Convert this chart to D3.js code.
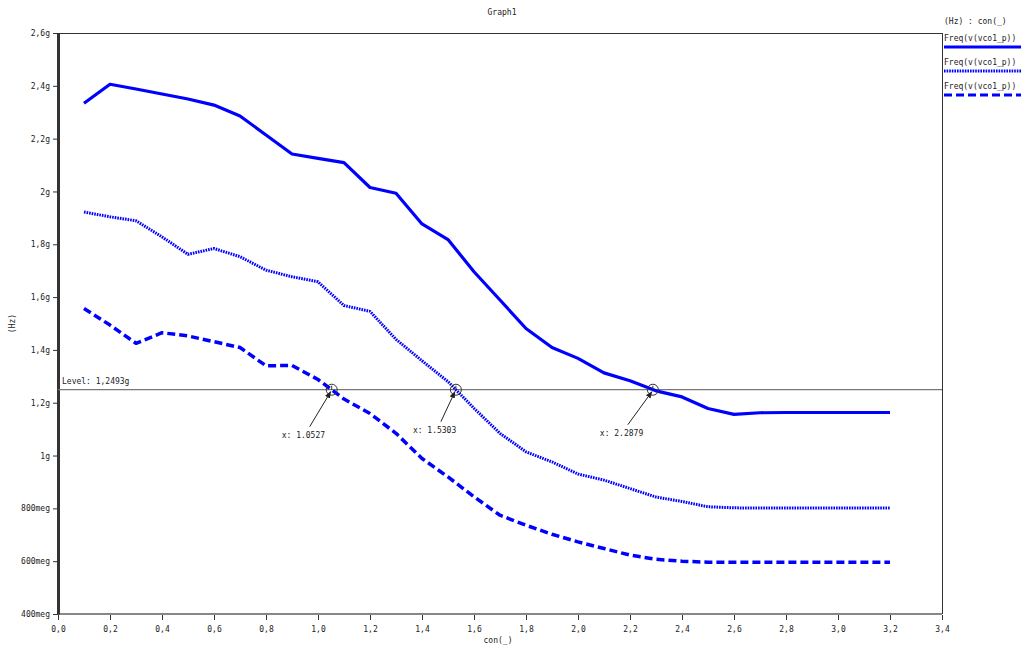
<!DOCTYPE html>
<html>
<head>
<meta charset="utf-8">
<script src="https://cdn.jsdelivr.net/npm/d3@7"></script>
<style>
  body { margin: 0; background: #fff; }
  svg { display: block; }
  text { font-family: "DejaVu Sans Mono", "Liberation Mono", monospace; font-size: 8px; fill: #222; }
</style>
</head>
<body>
<svg id="chart" width="1021" height="648"></svg>
<script>
// sweep values of con(_)
const conValues = [0.1, 0.2, 0.3, 0.4, 0.5, 0.6, 0.7, 0.8, 0.9, 1.0, 1.1, 1.2, 1.3, 1.4, 1.5, 1.6,
                   1.7, 1.8, 1.9, 2.0, 2.1, 2.2, 2.3, 2.4, 2.5, 2.6, 2.7, 2.8, 2.9, 3.0, 3.1, 3.2];

// Freq(v(vco1_p)) in GHz, three runs
const freqSolid = [2.334, 2.406, 2.388, 2.369, 2.350, 2.327, 2.286, 2.214, 2.142, 2.125, 2.109, 2.015,
                   1.993, 1.877, 1.818, 1.696, 1.589, 1.481, 1.409, 1.368, 1.313, 1.283, 1.245, 1.222,
                   1.178, 1.156, 1.162, 1.163, 1.163, 1.163, 1.163, 1.163];
const freqDotted = [1.922, 1.904, 1.889, 1.828, 1.762, 1.784, 1.753, 1.702, 1.677, 1.658, 1.568, 1.546,
                    1.440, 1.359, 1.280, 1.179, 1.084, 1.014, 0.976, 0.930, 0.907, 0.875, 0.843, 0.826,
                    0.806, 0.802, 0.801, 0.801, 0.801, 0.801, 0.801, 0.801];
const freqDashed = [1.557, 1.494, 1.425, 1.465, 1.453, 1.431, 1.409, 1.340, 1.341, 1.288, 1.214, 1.159,
                    1.084, 0.989, 0.919, 0.844, 0.774, 0.736, 0.702, 0.673, 0.648, 0.623, 0.607, 0.600,
                    0.596, 0.596, 0.596, 0.596, 0.596, 0.596, 0.596, 0.596];

const seriesNames = ["Freq(v(vco1_p))", "Freq(v(vco1_p))", "Freq(v(vco1_p))"];

// level cursor and crossings
const levelValue = 1.2493;
const levelLabel = "Level: 1,2493g";
const crossX = [1.0527, 1.5303, 2.2879];
const crossLabels = ["x: 1.0527", "x: 1.5303", "x: 2.2879"];

// ticks
const xTicks = [0.0, 0.2, 0.4, 0.6, 0.8, 1.0, 1.2, 1.4, 1.6, 1.8, 2.0, 2.2, 2.4, 2.6, 2.8, 3.0, 3.2, 3.4];
const xTickLabels = ["0,0", "0,2", "0,4", "0,6", "0,8", "1,0", "1,2", "1,4", "1,6", "1,8", "2,0", "2,2",
                     "2,4", "2,6", "2,8", "3,0", "3,2", "3,4"];
const yTicks = [0.4, 0.6, 0.8, 1.0, 1.2, 1.4, 1.6, 1.8, 2.0, 2.2, 2.4, 2.6];
const yTickLabels = ["400meg", "600meg", "800meg", "1g", "1,2g", "1,4g", "1,6g", "1,8g", "2g", "2,2g",
                     "2,4g", "2,6g"];

// plot frame
const plotLeft = 58, plotRight = 942, plotTop = 33, plotBottom = 614;

const svg = d3.select("#chart");

const x = d3.scaleLinear().domain([0, 3.4]).range([plotLeft, plotRight]);
const y = d3.scaleLinear().domain([0.4, 2.6]).range([plotBottom, plotTop]);

// title
svg.append("text")
    .attr("x", (plotLeft + plotRight) / 2 + 2)
    .attr("y", 15)
    .attr("text-anchor", "middle")
    .text("Graph1");

// top and right border
svg.append("line")
    .attr("x1", plotLeft).attr("x2", plotRight)
    .attr("y1", plotTop + 0.5).attr("y2", plotTop + 0.5)
    .attr("stroke", "#333").attr("stroke-width", 1);
svg.append("line")
    .attr("x1", plotRight + 0.5).attr("x2", plotRight + 0.5)
    .attr("y1", plotTop).attr("y2", plotBottom)
    .attr("stroke", "#333").attr("stroke-width", 1);

// X axis
const xAxis = svg.append("g")
    .attr("transform", `translate(0,${plotBottom})`)
    .call(d3.axisBottom(x)
        .tickValues(xTicks)
        .tickFormat((d, i) => xTickLabels[i])
        .tickSize(6)
        .tickSizeOuter(0));
xAxis.select(".domain").remove();
xAxis.selectAll(".tick line").attr("stroke", "#333").attr("y1", 1);
xAxis.selectAll(".tick text").attr("y", 12).attr("dy", "0.71em")
    .style("font-family", null).style("font-size", null).attr("font-size", null).attr("font-family", null);
svg.append("line")
    .attr("x1", plotLeft).attr("x2", plotRight)
    .attr("y1", plotBottom).attr("y2", plotBottom)
    .attr("stroke", "#888").attr("stroke-width", 2);

// Y axis
const yAxis = svg.append("g")
    .attr("transform", `translate(${plotLeft},0)`)
    .call(d3.axisLeft(y)
        .tickValues(yTicks)
        .tickFormat((d, i) => yTickLabels[i])
        .tickSize(5)
        .tickPadding(3)
        .tickSizeOuter(0));
yAxis.select(".domain").attr("stroke", "#333").attr("stroke-width", 3);
yAxis.selectAll(".tick line").attr("stroke", "#333");
yAxis.attr("font-size", null).attr("font-family", null);
xAxis.attr("font-size", null).attr("font-family", null);

// axis labels
svg.append("text")
    .attr("x", (plotLeft + plotRight) / 2 - 2)
    .attr("y", 643)
    .attr("text-anchor", "middle")
    .text("con(_)");
svg.append("text")
    .attr("transform", `translate(15,${(plotTop + plotBottom) / 2}) rotate(-90)`)
    .attr("text-anchor", "middle")
    .text("(Hz)");

// level line
svg.append("line")
    .attr("x1", plotLeft).attr("x2", plotRight)
    .attr("y1", y(levelValue)).attr("y2", y(levelValue))
    .attr("stroke", "#777").attr("stroke-width", 1.2);
svg.append("text")
    .attr("x", plotLeft + 4)
    .attr("y", y(levelValue) - 6)
    .text(levelLabel);

// curves
const line = d3.line()
    .x((d, i) => x(conValues[i]))
    .y(d => y(d));

const styles = [
    { data: freqSolid, dash: null, width: 3.2 },
    { data: freqDotted, dash: "1.6,1", width: 3 },
    { data: freqDashed, dash: "8,4", width: 3.5 }
];

svg.append("g")
    .selectAll("path")
    .data(styles)
    .join("path")
    .attr("d", d => line(d.data))
    .attr("fill", "none")
    .attr("stroke", "#0000ff")
    .attr("stroke-width", d => d.width)
    .attr("stroke-dasharray", d => d.dash)
    .attr("stroke-linejoin", "round");

// crossing markers
const labelOffsets = [[-50, 48], [-43, 43], [-53, 46]];

svg.append("defs").append("marker")
    .attr("id", "arrow")
    .attr("viewBox", "0 0 10 10")
    .attr("refX", 9).attr("refY", 5)
    .attr("markerWidth", 7).attr("markerHeight", 7)
    .attr("orient", "auto")
    .append("path")
    .attr("d", "M0,1 L10,5 L0,9 z")
    .attr("fill", "#222");

const markers = svg.append("g")
    .selectAll("g")
    .data(crossX)
    .join("g")
    .attr("transform", d => `translate(${x(d)},${y(levelValue)})`);

markers.append("circle")
    .attr("r", 5.5)
    .attr("fill", "none")
    .attr("stroke", "#333")
    .attr("stroke-width", 1);
markers.append("line")
    .attr("x1", 0).attr("x2", 0).attr("y1", -4).attr("y2", 0)
    .attr("stroke", "#333").attr("stroke-width", 1);
markers.append("line")
    .attr("x1", (d, i) => labelOffsets[i][0] + 28)
    .attr("y1", (d, i) => labelOffsets[i][1] - 11)
    .attr("x2", -1).attr("y2", 2)
    .attr("stroke", "#222").attr("stroke-width", 1)
    .attr("marker-end", "url(#arrow)");
markers.append("text")
    .attr("x", (d, i) => labelOffsets[i][0])
    .attr("y", (d, i) => labelOffsets[i][1])
    .text((d, i) => crossLabels[i]);

// legend
const legendX = 944;
svg.append("text")
    .attr("x", legendX)
    .attr("y", 24)
    .text("(Hz) : con(_)");

const legend = svg.append("g")
    .selectAll("g")
    .data(styles)
    .join("g")
    .attr("transform", (d, i) => `translate(${legendX},${41 + i * 24})`);
legend.append("text")
    .attr("x", 0)
    .attr("y", 0)
    .text((d, i) => seriesNames[i]);
legend.append("line")
    .attr("x1", 0).attr("x2", 80)
    .attr("y1", 6).attr("y2", 6)
    .attr("stroke", "#0000ff")
    .attr("stroke-width", 3)
    .attr("stroke-dasharray", d => d.dash);
</script>
</body>
</html>
